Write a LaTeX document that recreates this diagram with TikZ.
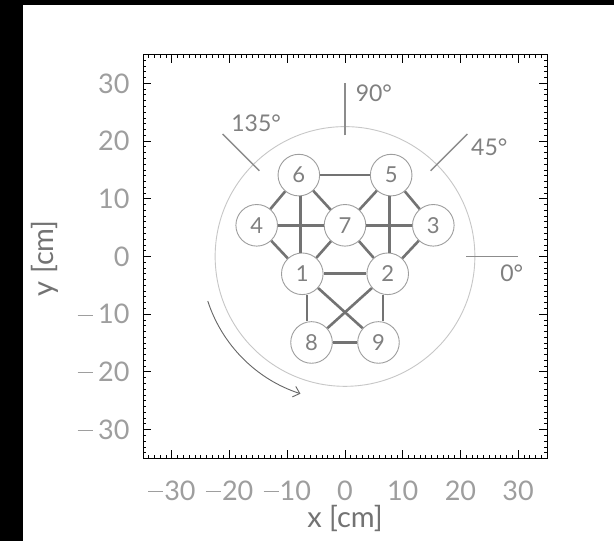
\documentclass[tikz,border=0pt]{standalone}
\usepackage{fontspec}
\setmainfont{Lato}
\usetikzlibrary{arrows.meta,calc}
\newcommand\mnus{\rule[0.3em]{0.56em}{0.045em}\kern0.04em}
\begin{document}
\begin{tikzpicture}[x=5.7714pt,y=5.7714pt,
  nd/.style={circle,draw=black!38,line width=0.9pt,minimum size=41.6pt,inner sep=0pt,fill=white,text=black!50,font=\fontsize{22}{22}\selectfont},
  conn/.style={draw=black!55,line width=2.6pt},
  dirline/.style={draw=black!45,line width=1.4pt},
  lab/.style={text=black!50,font=\fontsize{23}{23}\selectfont,inner sep=0pt},
  ticklab/.style={text=black!38,font=\fontsize{27}{27}\selectfont,inner sep=0pt},
  axlab/.style={text=black!55,font=\fontsize{29}{29}\selectfont,inner sep=0pt}]
\fill[white] (-59.78,-49.29) rectangle (46.61,44.44);
\useasboundingbox (-59.78,-49.29) rectangle (46.61,44.44);
\fill[black] (-59.78,-49.29) rectangle (-55.79,44.44);
\fill[black] (-59.78,44.44) rectangle (46.61,43.57);
% frame and ticks
\draw[black,line width=1pt] (-35,-35) rectangle (35,35);
\foreach \v in {-34,...,34} {
  \draw[black,line width=0.8pt] (\v,-35) -- ++(0,0.6);
  \draw[black,line width=0.8pt] (\v,35) -- ++(0,-0.6);
  \draw[black,line width=0.8pt] (-35,\v) -- ++(0.6,0);
  \draw[black,line width=0.8pt] (35,\v) -- ++(-0.6,0);
}
\foreach \v in {-30,-20,...,30} {
  \draw[black,line width=0.9pt] (\v,-35) -- ++(0,1.4);
  \draw[black,line width=0.9pt] (\v,35) -- ++(0,-1.4);
  \draw[black,line width=0.9pt] (-35,\v) -- ++(1.4,0);
  \draw[black,line width=0.9pt] (35,\v) -- ++(-1.4,0);
}
% tick labels
\foreach \v/\t in {-30/\mnus30,-20/\mnus20,-10/\mnus10,0/0,10/10,20/20,30/30} {
  \node[ticklab,anchor=base] (xl\v) at (\v,-42.2) {\t};
}
\foreach \v/\t in {-30/\mnus\,30,-20/\mnus\,20,-10/\mnus\,10,0/0,10/10,20/20,30/30} {
  \node[ticklab,anchor=east] (yl\v) at (-37.3,\v) {\t};
}
\node[axlab,anchor=north] (xlab) at (0,-43.1) {x [cm]};
\node[axlab,rotate=90] (ylab) at (-52.0,-0.3) {y [cm]};
% big circle
\draw[black!22,line width=0.9pt] (0,0) circle[radius=22.5];
% direction lines
\foreach \a in {0,45,90,135} {
  \coordinate (di\a) at (\a:21);
  \coordinate (do\a) at (\a:30);
  \draw[dirline] (di\a) -- (do\a);
}
\node[lab] (l90) at (5.0,28.3) {90°};
\node[lab] (l135) at (-15.4,23.1) {135°};
\node[lab] (l45) at (25.0,18.9) {45°};
\node[lab] (l0) at (28.9,-2.9) {0°};
% rotation arrow
\coordinate (as) at (198:25);
\draw[black!60,line width=0.9pt,-{Straight Barb[length=6pt,width=11pt]}] (as) arc[start angle=198,end angle=252,radius=25];
% nodes
\node[nd] (n6) at (-8,14.1) {6};
\node[nd] (n5) at (8,14.1) {5};
\node[nd] (n4) at (-15.3,5.4) {4};
\node[nd] (n7) at (0,5.4) {7};
\node[nd] (n3) at (15.3,5.4) {3};
\node[nd] (n1) at (-7.4,-3) {1};
\node[nd] (n2) at (7.4,-3) {2};
\node[nd] (n8) at (-5.8,-14.9) {8};
\node[nd] (n9) at (5.8,-14.9) {9};
% connectors
\foreach \a/\b in {n6/n5,n6/n4,n6/n7,n5/n7,n5/n3,n4/n7,n7/n3,n4/n1,n7/n1,n7/n2,n3/n2,n1/n2,n1/n9,n2/n8,n8/n9}
  \draw[conn] (\a) -- (\b);
% vertical connectors drawn at the mid x of their two nodes
\foreach \a/\b in {n6/n1,n5/n2,n1/n8,n2/n9} {
  \coordinate (m\a\b) at ($(\a)!0.5!(\b)$);
  \draw[conn] (\a.south -| m\a\b) -- (\b.north -| m\a\b);
}
\end{tikzpicture}
\end{document}
